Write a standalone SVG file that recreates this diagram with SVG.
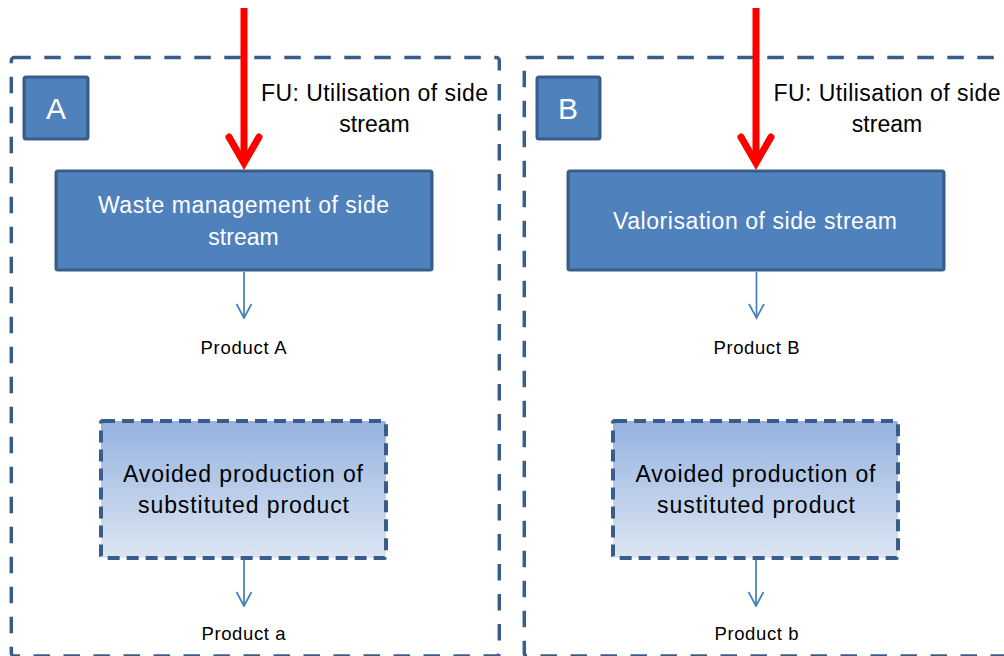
<svg xmlns="http://www.w3.org/2000/svg" width="1004" height="656" viewBox="0 0 1004 656">
<style>
.frame{fill:none;stroke:#385D8A;stroke-width:3.5;stroke-dasharray:16.5 13.5}
.solid{fill:#4F81BD;stroke:#385D8A;stroke-width:3}
.avoid{fill:url(#g);stroke:#385D8A;stroke-width:4;stroke-dasharray:12 7}
.wt{fill:#fff;font-family:"Liberation Sans",Arial,sans-serif;font-size:23px;text-anchor:middle}
.bt{fill:#000;font-family:"Liberation Sans",Arial,sans-serif;font-size:23px;text-anchor:middle}
.pt{fill:#000;font-family:"Liberation Sans",Arial,sans-serif;font-size:18.5px;text-anchor:middle}
.letter{fill:#fff;font-family:"Liberation Sans",Arial,sans-serif;font-size:30px;text-anchor:middle}
.red{fill:none;stroke:#FF0000;stroke-width:7}
.redhead{fill:none;stroke:#FF0000;stroke-width:7;stroke-linecap:round;stroke-linejoin:miter}
.blue{fill:none;stroke:#4A7EBB;stroke-width:1.75}
</style>
<defs>
<linearGradient id="g" x1="0" y1="0" x2="0" y2="1">
<stop offset="0" stop-color="#95B3DF"/>
<stop offset="1" stop-color="#DDE5F3"/>
</linearGradient>
</defs>
<g id="frameA"><rect class="frame" x="11.3" y="57.5" width="488" height="598.5" rx="3"/></g>
<g id="frameB"><rect class="frame" x="524.3" y="57.5" width="500" height="598.5" rx="3"/></g>
<g id="labelA"><rect class="solid" x="24" y="77" width="64" height="62" rx="2"/><text class="letter" x="56" y="119">A</text></g>
<g id="labelB"><rect class="solid" x="537" y="77" width="63" height="62" rx="2"/><text class="letter" x="568" y="119">B</text></g>
<g id="fuA"><text class="bt" x="374.5" y="101" textLength="227" lengthAdjust="spacing">FU: Utilisation of side</text><text class="bt" x="374.5" y="132">stream</text></g>
<g id="fuB"><text class="bt" x="887" y="101" textLength="227" lengthAdjust="spacing">FU: Utilisation of side</text><text class="bt" x="887" y="132">stream</text></g>
<g id="wasteA"><rect class="solid" x="56" y="171" width="376" height="99" rx="2"/><text class="wt" x="243.5" y="213" textLength="291" lengthAdjust="spacing">Waste management of side</text><text class="wt" x="243.5" y="245">stream</text></g>
<g id="valorB"><rect class="solid" x="568" y="171" width="376" height="99" rx="2"/><text class="wt" x="755" y="229" textLength="284" lengthAdjust="spacing">Valorisation of side stream</text></g>
<g id="productA"><text class="pt" x="243.5" y="354" textLength="86" lengthAdjust="spacing">Product A</text></g>
<g id="productB"><text class="pt" x="756.5" y="354" textLength="86" lengthAdjust="spacing">Product B</text></g>
<g id="avoidA"><rect class="avoid" x="101" y="421" width="285" height="137" rx="2"/><text class="bt" x="243" y="482" textLength="240" lengthAdjust="spacing">Avoided production of</text><text class="bt" x="243.5" y="513" textLength="211" lengthAdjust="spacing">substituted product</text></g>
<g id="avoidB"><rect class="avoid" x="613" y="421" width="285" height="137" rx="2"/><text class="bt" x="755.5" y="482" textLength="240" lengthAdjust="spacing">Avoided production of</text><text class="bt" x="756" y="513" textLength="198" lengthAdjust="spacing">sustituted product</text></g>
<g id="producta"><text class="pt" x="243.5" y="640" textLength="84" lengthAdjust="spacing">Product a</text></g>
<g id="productb"><text class="pt" x="756.5" y="640" textLength="84" lengthAdjust="spacing">Product b</text></g>
<g id="connectors">
<line class="red" x1="244" y1="8" x2="244" y2="160"/>
<polyline class="redhead" points="229,137 244,163 259,137"/>
<line class="red" x1="756" y1="8" x2="756" y2="160"/>
<polyline class="redhead" points="741,137 756,163 771,137"/>
<line class="blue" x1="244" y1="272" x2="244" y2="318"/>
<polyline class="blue" points="236.5,304 244,318 251.5,304"/>
<line class="blue" x1="756.5" y1="272" x2="756.5" y2="318"/>
<polyline class="blue" points="749,304 756.5,318 764,304"/>
<line class="blue" x1="244" y1="560" x2="244" y2="606"/>
<polyline class="blue" points="236.5,592 244,606 251.5,592"/>
<line class="blue" x1="756" y1="560" x2="756" y2="606"/>
<polyline class="blue" points="748.5,592 756,606 763.5,592"/>
</g>
</svg>
